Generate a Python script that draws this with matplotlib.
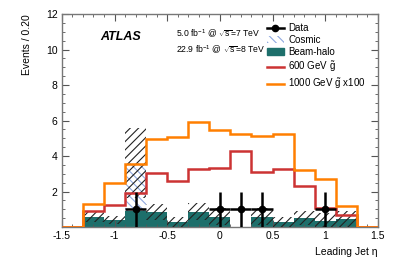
import numpy as np
import matplotlib
matplotlib.use("Agg")
import matplotlib.pyplot as plt
from matplotlib.lines import Line2D
from matplotlib.patches import Patch

plt.rcParams['font.family'] = ['Liberation Sans', 'DejaVu Sans']
plt.rcParams['mathtext.fontset'] = 'custom'
plt.rcParams['mathtext.rm'] = 'Liberation Sans'
plt.rcParams['mathtext.it'] = 'Liberation Sans'
plt.rcParams['hatch.linewidth'] = 0.8

# binning in leading jet eta
edges = np.round(np.arange(-1.5, 1.51, 0.2), 2)

# backgrounds (per bin, -1.4 ... 1.4)
beam_halo = [0, 0.58, 0.39, 0.9, 0.86, 0.3, 0.86, 0.58, 0, 0.58, 0.3, 0.5, 0.35, 0.45, 0]
cosmic    = [0, 0, 0, 2.7, 0, 0, 0, 0, 0, 0, 0, 0, 0, 0, 0]
bkg_err   = [0, 0.32, 0.21, 1.96, 0.44, 0.28, 0.47, 0.47, 0, 0.47, 0.28, 0.4, 0.45, 0.45, 0]

# signals
sig_600  = [0, 0.9, 1.24, 1.92, 3.05, 2.59, 3.25, 3.34, 4.3, 3.12, 3.28, 2.31, 1.05, 0.7, 0]
sig_1000 = [0, 1.28, 2.46, 3.57, 4.96, 5.05, 5.9, 5.46, 5.22, 5.15, 5.22, 3.21, 2.7, 1.18, 0]

# data
data_x = [-0.8, 0.0, 0.2, 0.4, 1.0]
data_y = [1, 1, 1, 1, 1]
data_err = [1, 1, 1, 1, 1]

halo = np.array(beam_halo)
total = halo + np.array(cosmic)
err = np.array(bkg_err)

teal = '#1d6f6b'
red = '#cc3333'
orange = '#ff7f00'
blue = '#8fa8e0'

fig = plt.figure(figsize=(3.99, 2.70), dpi=100)
ax = fig.add_axes([0.155, 0.159, 0.792, 0.789])

ax.stairs(halo, edges, fill=True, color=teal, linewidth=0, zorder=1)
ax.stairs(total, edges, baseline=halo, fill=True, facecolor='none',
          edgecolor=blue, hatch='\\\\\\\\', linewidth=0, zorder=2)
ax.stairs(total + err, edges, baseline=np.clip(total - err, 0, None), fill=True,
          facecolor='none', edgecolor='#222222', hatch='////', linewidth=0, zorder=3)
ax.stairs(sig_600, edges, color=red, linewidth=1.8, zorder=4)
ax.stairs(sig_1000, edges, color=orange, linewidth=1.8, zorder=5)
ax.errorbar(data_x, data_y, yerr=data_err, xerr=0.1, fmt='o', color='black',
            markersize=4.5, elinewidth=1.8, capsize=0, zorder=6)

ax.set_xlim(-1.5, 1.5)
ax.set_ylim(0, 12)
ax.set_xticks([-1.5, -1, -0.5, 0, 0.5, 1, 1.5])
ax.set_xticklabels(['-1.5', '-1', '-0.5', '0', '0.5', '1', '1.5'])
ax.set_yticks([2, 4, 6, 8, 10, 12])
ax.set_xticks(np.arange(-1.5, 1.51, 0.1), minor=True)
ax.set_yticks(np.arange(0, 12.01, 0.5), minor=True)
ax.tick_params(which='both', direction='in', top=True, right=True,
               labelsize=7.5, color='#555555', pad=3)
ax.tick_params(which='major', length=5)
ax.tick_params(which='minor', length=2.5)
for s in ax.spines.values():
    s.set_color('#777777')
    s.set_linewidth(1.0)

ax.set_xlabel('Leading Jet η', fontsize=7.5, loc='right', labelpad=4)
ax.set_ylabel('Events / 0.20', fontsize=7.5, loc='top', labelpad=10)

ax.text(0.12, 0.88, 'ATLAS', transform=ax.transAxes, fontsize=9,
        fontweight='bold', fontstyle='italic')
ax.text(0.36, 0.89, r'5.0 fb$^{-1}$ @ $\sqrt{s}$=7 TeV', transform=ax.transAxes, fontsize=6.2)
ax.text(0.36, 0.815, r'22.9 fb$^{-1}$ @ $\sqrt{s}$=8 TeV', transform=ax.transAxes, fontsize=6.2)

handles = [
    Line2D([], [], color='black', marker='o', markersize=4.5, linewidth=1.8),
    Patch(facecolor='white', edgecolor=blue, hatch='\\\\\\\\', linewidth=0),
    Patch(facecolor=teal, edgecolor=teal),
    Line2D([], [], color=red, linewidth=1.8),
    Line2D([], [], color=orange, linewidth=1.8),
]
labels = ['Data', 'Cosmic', 'Beam-halo', r'600 GeV $\tilde{g}$', r'1000 GeV $\tilde{g}$ x100']
ax.legend(handles, labels, loc='upper left', bbox_to_anchor=(0.636, 0.975), frameon=False,
          fontsize=7, handlelength=1.8, handletextpad=0.4, labelspacing=0.2,
          borderaxespad=0)

fig.savefig('out.png', dpi=100)
